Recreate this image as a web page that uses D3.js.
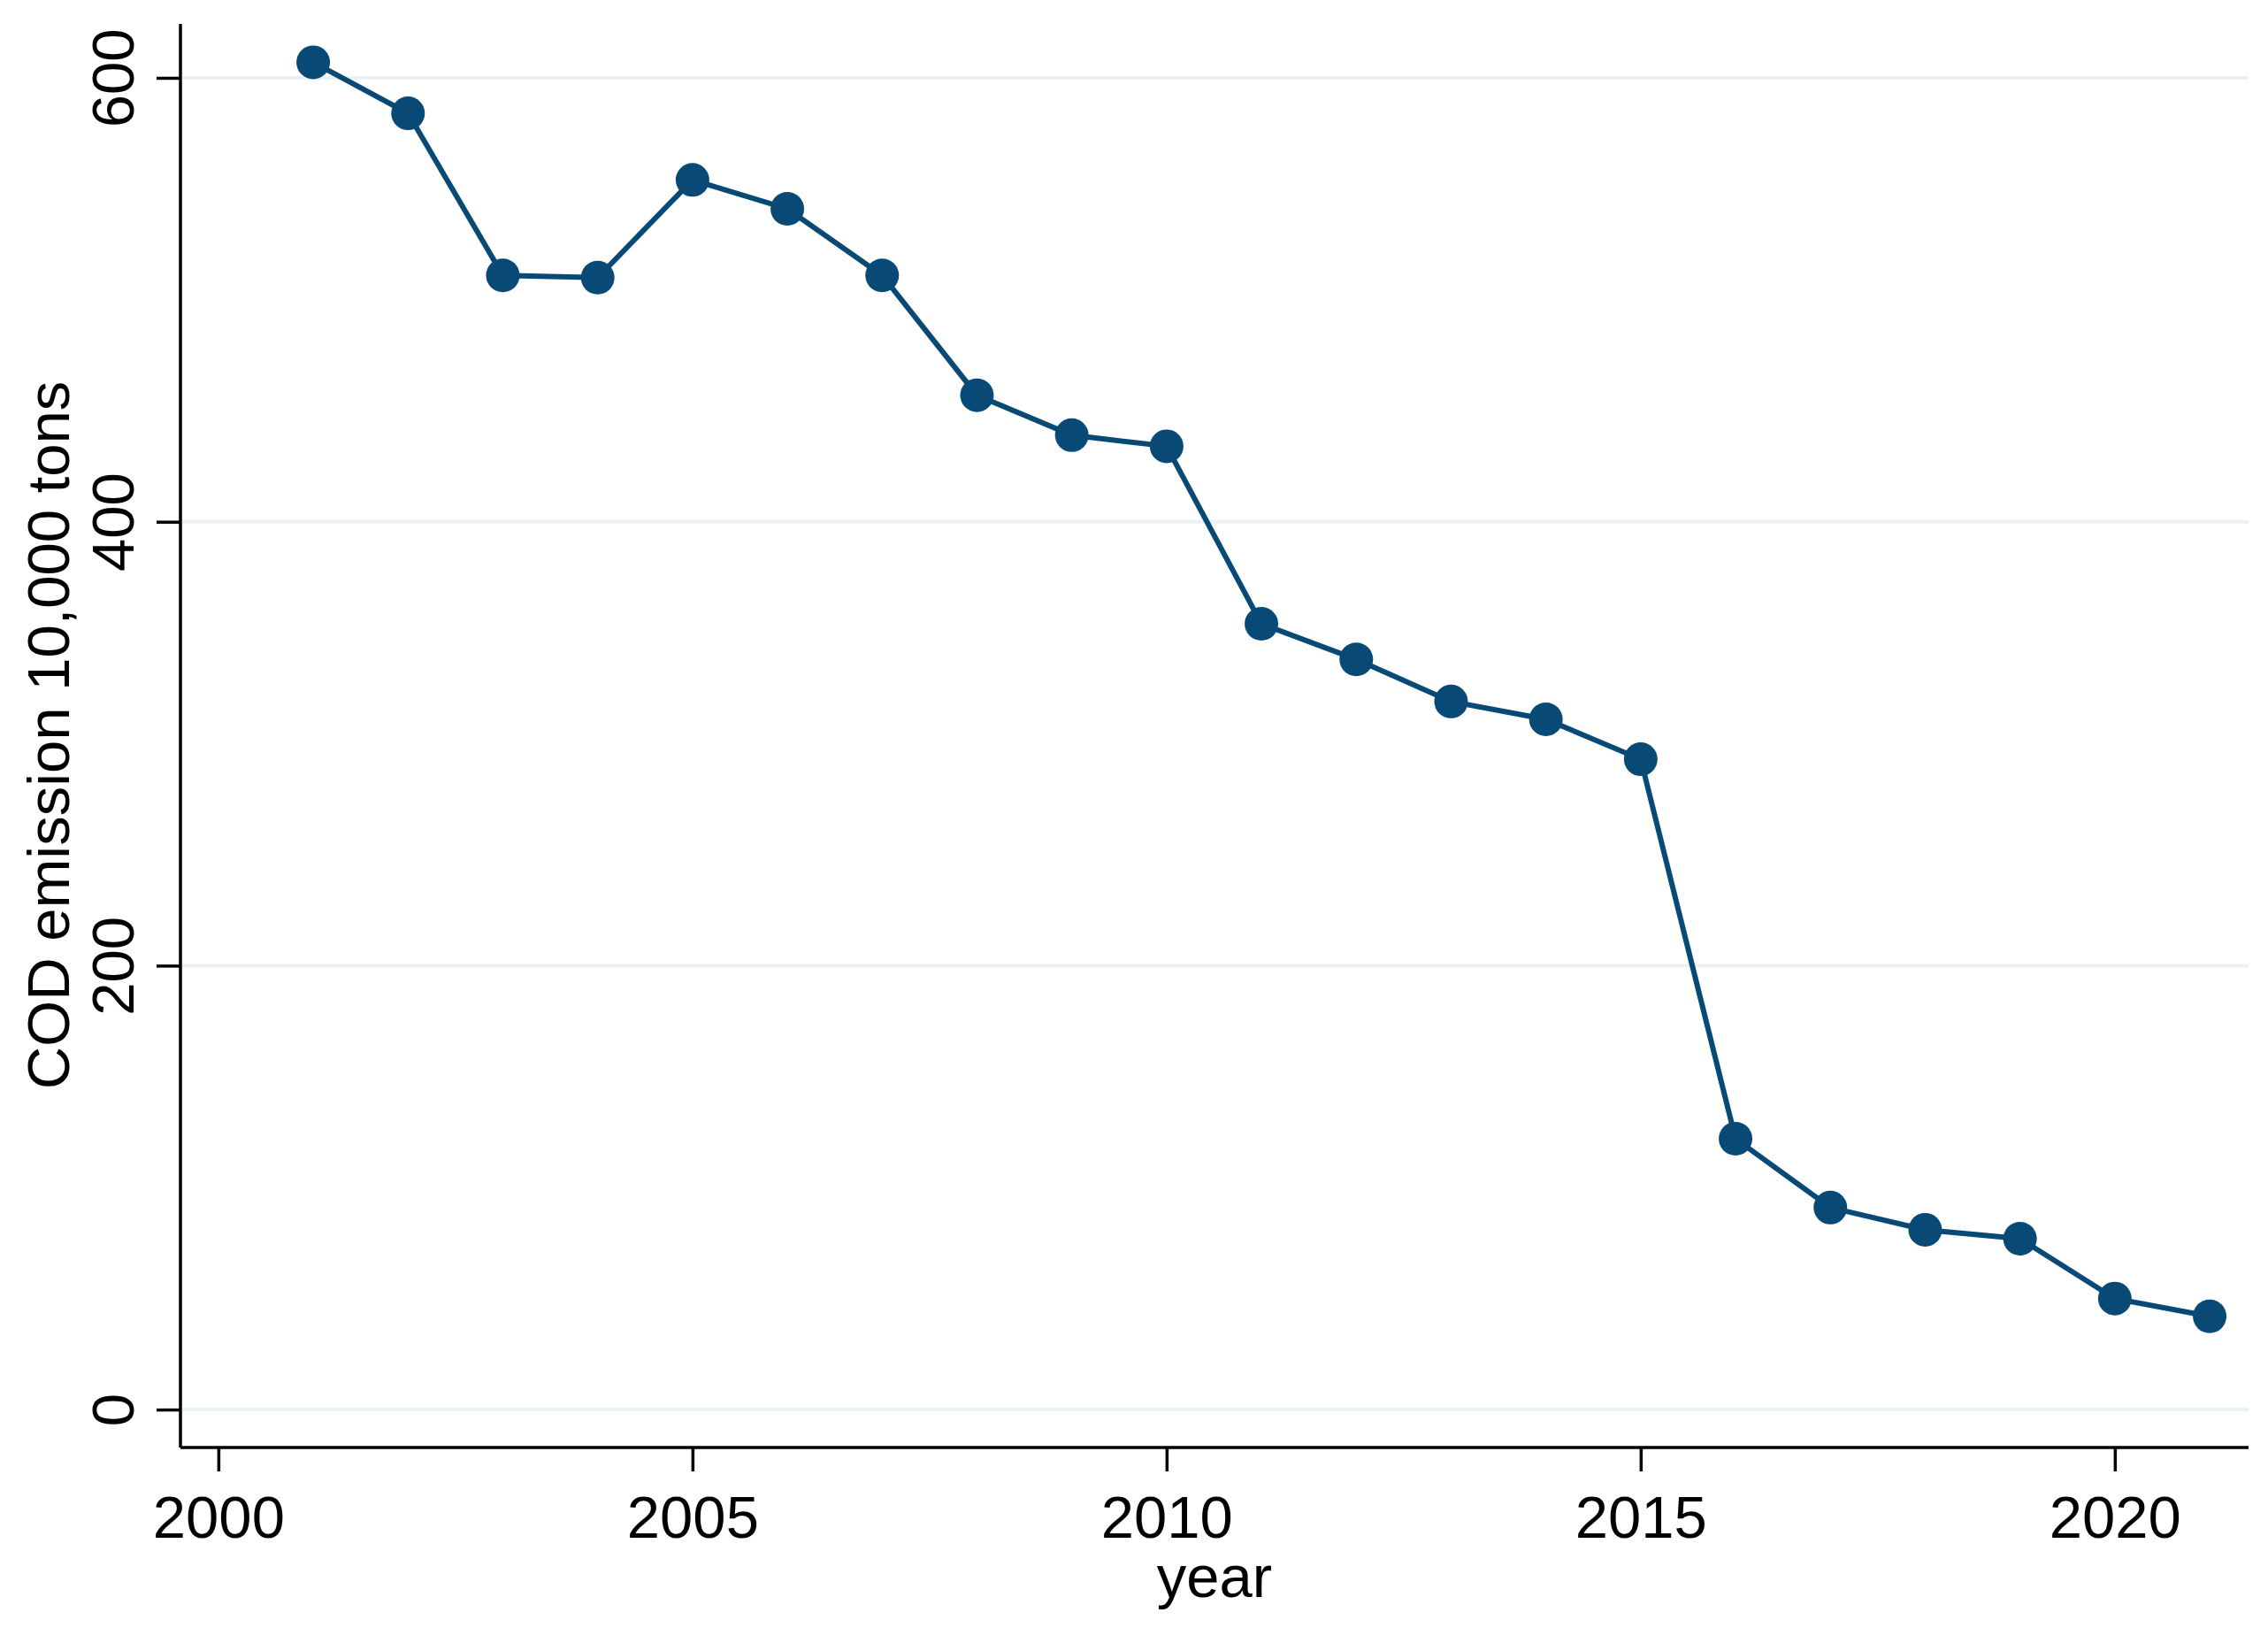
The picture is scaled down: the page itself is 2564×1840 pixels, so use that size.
<!DOCTYPE html>
<html><head><meta charset="utf-8">
<script src="https://cdn.jsdelivr.net/npm/d3@7"></script>
<style>html,body{margin:0;padding:0;background:#fff;}svg{display:block;}</style>
</head><body>
<script>
const years = [2001,2002,2003,2004,2005,2006,2007,2008,2009,2010,2011,2012,2013,2014,2015,2016,2017,2018,2019,2020,2021];
const cod = [607,584,511,510,554,541,511,457,439,434,354,338,319,311,293,122,91,81,77,50,42];
const xTicks = [2000,2005,2010,2015,2020];
const yTicks = [0,200,400,600];
const xTitle = "year";
const yTitle = "COD emission 10,000 tons";

const W = 2564, H = 1840;
const m = {left:204, right:2542, top:27, bottom:1636};
const svg = d3.select("body").append("svg").attr("width",W).attr("height",H);
const font = "'Liberation Sans', Arial, sans-serif";
const fs = 67;

const x = d3.scaleLinear().domain([1999.6, 2021.41]).range([m.left, m.right]);
const y = d3.scaleLinear().domain([-17.1, 624.3]).range([m.bottom, m.top]);

// gridlines
svg.append("g").selectAll("line").data(yTicks).join("line")
  .attr("x1", m.left).attr("x2", m.right)
  .attr("y1", d=>y(d)).attr("y2", d=>y(d))
  .attr("stroke", "#eaf2f3").attr("stroke-width", 4);

// y axis
const gy = svg.append("g").attr("transform", `translate(${m.left},0)`)
  .call(d3.axisLeft(y).tickValues(yTicks).tickSize(27).tickPadding(0).tickFormat(d3.format("d")));
gy.select(".domain").attr("d", `M0,${m.top}V${m.bottom}`).attr("stroke","#000").attr("stroke-width",3.5);
gy.selectAll(".tick line").attr("stroke","#000").attr("stroke-width",3.5);
gy.selectAll(".tick text").attr("font-family", font).attr("font-size", fs).attr("fill","#000")
  .attr("x", null).attr("dy", null).attr("text-anchor","middle")
  .attr("transform","translate(-53,0) rotate(-90)");

// x axis
const gx = svg.append("g").attr("transform", `translate(0,${m.bottom})`)
  .call(d3.axisBottom(x).tickValues(xTicks).tickSize(27).tickPadding(0).tickFormat(d3.format("d")));
gx.select(".domain").attr("d", `M${m.left},0H${m.right}`).attr("stroke","#000").attr("stroke-width",3.5);
gx.selectAll(".tick line").attr("stroke","#000").attr("stroke-width",3.5);
gx.selectAll(".tick text").attr("font-family", font).attr("font-size", fs).attr("fill","#000")
  .attr("y", null).attr("dy", null).attr("transform","translate(0,102)");

// titles
svg.append("text").attr("x", (m.left+m.right)/2).attr("y", 1805)
  .attr("text-anchor","middle").attr("font-family",font).attr("font-size",fs).text(xTitle);
svg.append("text").attr("transform", `translate(78,831) rotate(-90)`)
  .attr("text-anchor","middle").attr("font-family",font).attr("font-size",fs).text(yTitle);

// line + markers
const color = "#084a75";
svg.append("path").datum(years.map((d,i)=>[d,cod[i]]))
  .attr("fill","none").attr("stroke",color).attr("stroke-width",6)
  .attr("d", d3.line().x(d=>x(d[0])).y(d=>y(d[1])));
svg.append("g").selectAll("circle").data(years.map((d,i)=>[d,cod[i]])).join("circle")
  .attr("cx", d=>x(d[0])).attr("cy", d=>y(d[1])).attr("r", 19).attr("fill", color);
</script>
</body></html>
